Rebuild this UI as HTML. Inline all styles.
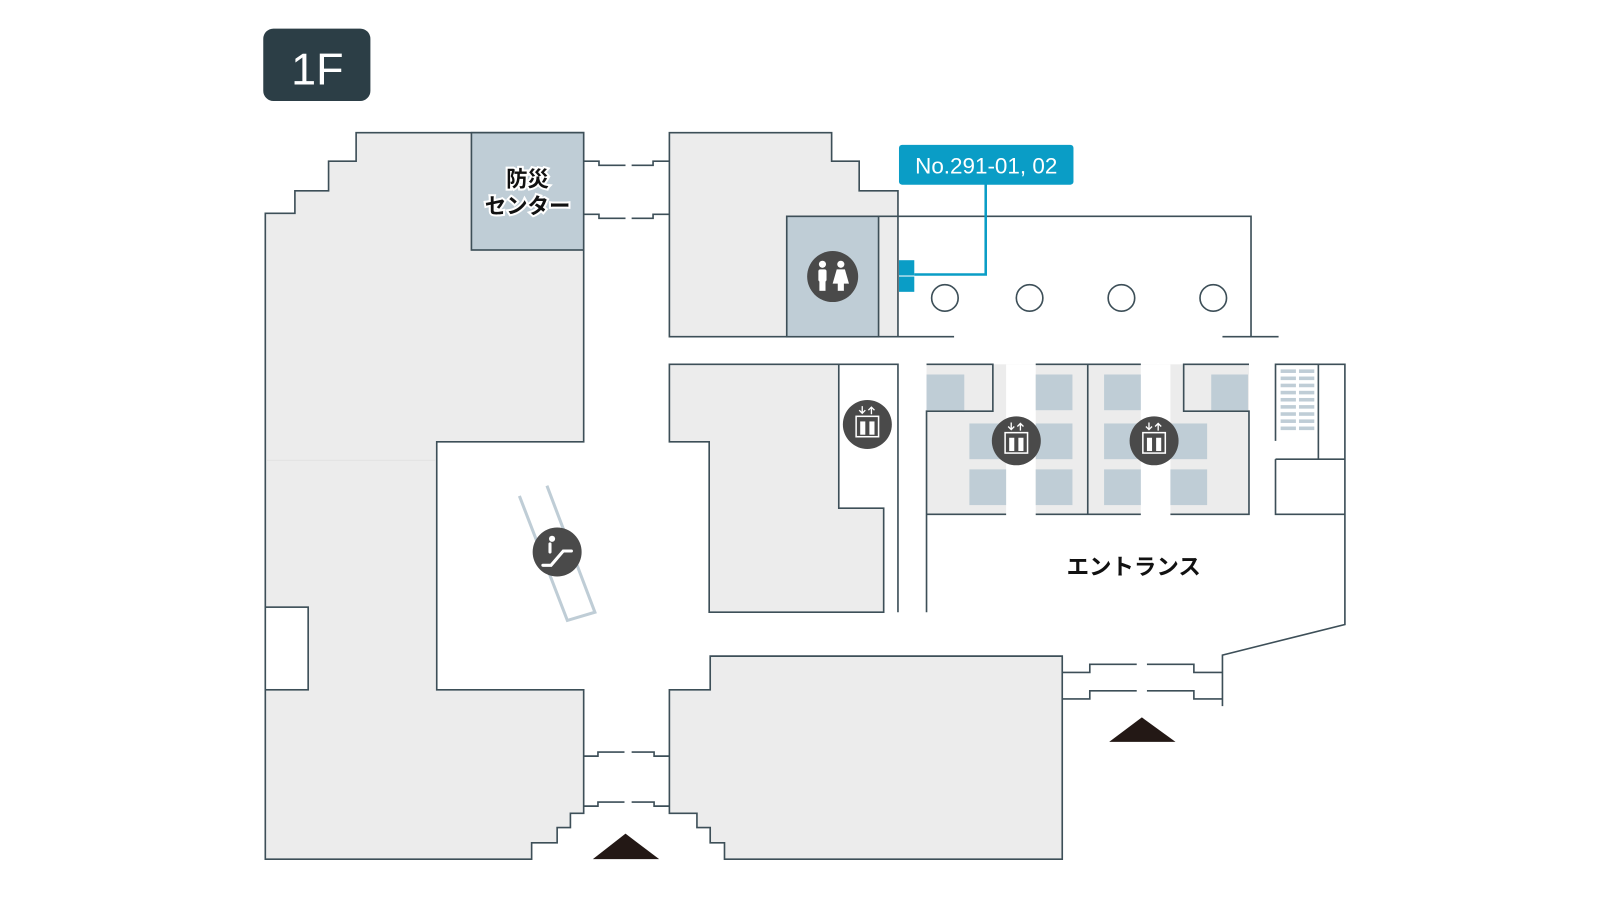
<!DOCTYPE html>
<html><head><meta charset="utf-8"><style>
html,body{margin:0;padding:0;background:#fff;width:1600px;height:900px;overflow:hidden}
svg{display:block}
text{font-family:"Liberation Sans","Noto Sans CJK JP",sans-serif}
</style></head><body>
<svg width="1600" height="900" viewBox="0 0 1568 882" xmlns="http://www.w3.org/2000/svg">
<g stroke="#3d4f58" stroke-width="1.6" fill="#ececec">
<path d="M260,209 H289 V187 H322 V158 H349 V130 H572 V433 H428 V676 H572 V797 H559 V811 H546 V826 H521 V842 H260 Z"/>
<rect x="260" y="595" width="42" height="81" fill="#fff"/>
<rect x="462" y="130" width="110" height="115" fill="#bfcdd6"/>
<path d="M656,130 H815 V158 H842 V187 H880 V330 H656 Z"/>
<rect x="771" y="212" width="90" height="118" fill="#bfcdd6"/>
<path d="M656,357 H822 V498 H866 V600 H695 V433 H656 Z"/>
<path d="M656,676 H696 V643 H1041 V842 H710 V826 H696 V811 H683 V797 H656 Z"/>
</g>
<line x1="261" y1="451" x2="427" y2="451" stroke="#e2e2e2" stroke-width="1"/>
<rect x="908" y="357" width="316" height="147" fill="#ececec"/>
<rect x="986" y="357" width="29" height="148" fill="#fff"/>
<rect x="1118" y="357" width="29" height="148" fill="#fff"/>
<g fill="#bfcdd6">
<rect x="908" y="367" width="37" height="35"/><rect x="1015" y="367" width="36" height="35"/><rect x="1082" y="367" width="36" height="35"/><rect x="1187" y="367" width="36" height="35"/>
<rect x="950" y="415" width="36" height="35"/><rect x="1015" y="415" width="36" height="35"/><rect x="1082" y="415" width="36" height="35"/><rect x="1147" y="415" width="36" height="35"/>
<rect x="950" y="460" width="36" height="35"/><rect x="1015" y="460" width="36" height="35"/><rect x="1082" y="460" width="36" height="35"/><rect x="1147" y="460" width="36" height="35"/>
</g>
<g stroke="#3d4f58" stroke-width="1.6" fill="none">
<path d="M908,357 H973 V403 H908 V600"/>
<path d="M1015,357 H1118 M1015,504 H1118 M908,504 H986 M1147,504 H1224 V403 H1160 V357 H1224"/>
<line x1="1066" y1="357" x2="1066" y2="504"/>
<path d="M822,357 H880 V600"/>
<path d="M880,330 H935 M861,212 H1226 V330 M1198,330 H1253"/>
<path d="M1250,432 V357 H1318 V612 L1198,642 V692 M1292,357 V450 M1250,450 H1318 M1250,450 V504 H1318"/>
<path d="M572,158 H587 V162 H613 M619,162 H640 V158 H656"/>
<path d="M572,210 H587 V214 H613 M619,214 H640 V210 H656"/>
<path d="M572,741 H586 V737 H612 M619,737 H641 V741 H656"/>
<path d="M572,790 H586 V786 H612 M619,786 H641 V790 H656"/>
<path d="M1041,659 H1068 V651 H1114 M1124,651 H1170 V659 H1198"/>
<path d="M1041,685 H1068 V677 H1114 M1124,677 H1170 V685 H1198"/>
<circle cx="926" cy="292" r="13"/><circle cx="1009" cy="292" r="13"/><circle cx="1099" cy="292" r="13"/><circle cx="1189" cy="292" r="13"/>
</g>
<g fill="#bfcdd6">
<rect x="1255" y="362" width="15" height="3.5"/><rect x="1273" y="362" width="15" height="3.5"/>
<rect x="1255" y="369" width="15" height="3.5"/><rect x="1273" y="369" width="15" height="3.5"/>
<rect x="1255" y="376" width="15" height="3.5"/><rect x="1273" y="376" width="15" height="3.5"/>
<rect x="1255" y="383" width="15" height="3.5"/><rect x="1273" y="383" width="15" height="3.5"/>
<rect x="1255" y="390" width="15" height="3.5"/><rect x="1273" y="390" width="15" height="3.5"/>
<rect x="1255" y="397" width="15" height="3.5"/><rect x="1273" y="397" width="15" height="3.5"/>
<rect x="1255" y="404" width="15" height="3.5"/><rect x="1273" y="404" width="15" height="3.5"/>
<rect x="1255" y="411" width="15" height="3.5"/><rect x="1273" y="411" width="15" height="3.5"/>
<rect x="1255" y="418" width="15" height="3.5"/><rect x="1273" y="418" width="15" height="3.5"/>
</g>
<path d="M509,486 L556,608 L583,600 L536,476" fill="none" stroke="#bfcdd6" stroke-width="3"/>
<circle cx="546" cy="541" r="24" fill="#4a4a4a"/>
<circle cx="541" cy="528" r="3" fill="#fff"/>
<path d="M539,533 V541 M532,554 H540 L552,540 H560" stroke="#fff" stroke-width="3" fill="none" stroke-linecap="round"/>
<circle cx="816" cy="271" r="25" fill="#4a4a4a"/>
<g fill="#fff"><circle cx="806" cy="259" r="3.5"/><rect x="802" y="264" width="8" height="12" rx="2"/><rect x="803" y="275" width="6" height="10"/>
<circle cx="824" cy="259" r="3.5"/><path d="M820,264 H828 L832,278 H816 Z"/><rect x="821" y="277" width="6" height="8"/></g>
<g id="el">
<circle cx="850" cy="416" r="24" fill="#4a4a4a"/>
<rect x="839" y="408" width="22" height="20" fill="none" stroke="#fff" stroke-width="1.5"/>
<path d="M845,398 V405 M842,402 L845,405 L848,402 M854,406 V399 M851,402 L854,399 L857,402" stroke="#fff" stroke-width="1.3" fill="none"/>
<rect x="843" y="413" width="5" height="13" fill="#fff"/><rect x="852" y="413" width="5" height="13" fill="#fff"/>
</g>
<use href="#el" x="146" y="16"/>
<use href="#el" x="281" y="16"/>
<polygon points="581,842 613,817 646,842" fill="#231815"/>
<polygon points="1087,727 1119,703 1152,727" fill="#231815"/>
<rect x="881" y="255" width="15" height="15" fill="#0a9dc6"/><rect x="881" y="271" width="15" height="15" fill="#0a9dc6"/>
<path d="M896,269 H966 V180" stroke="#0a9dc6" stroke-width="2.5" fill="none"/>
<rect x="881" y="142" width="171" height="39" rx="3" fill="#0a9dc6"/>
<text x="966.5" y="170" font-size="22" fill="#fff" text-anchor="middle">No.291-01, 02</text>
<rect x="258" y="28" width="105" height="71" rx="10" fill="#2c3e46"/>
<text x="311" y="83" font-size="44" fill="#fff" text-anchor="middle">1F</text>
<g font-size="21" text-anchor="middle" fill="#111" stroke="#fff" stroke-width="4" paint-order="stroke" font-weight="bold">
<text x="517" y="183">防災</text><text x="517" y="209">センター</text>
</g>
<text x="1111" y="563" font-size="22" text-anchor="middle" fill="#111" font-weight="bold">エントランス</text>
</svg>
</body></html>
